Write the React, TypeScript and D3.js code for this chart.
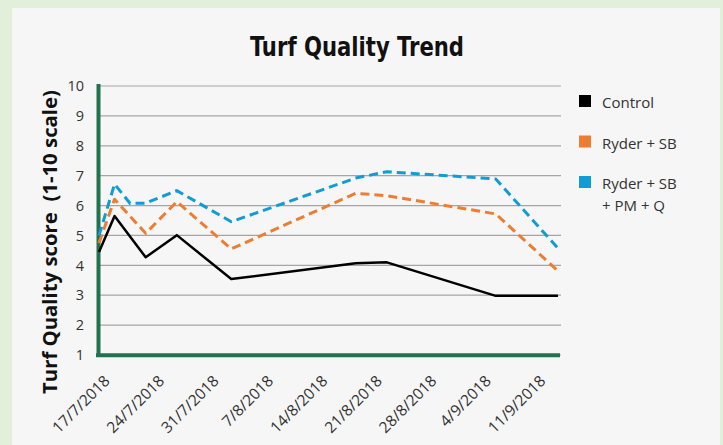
import React from "react";
import * as d3 from "d3";

// sample dates (shared by all three series)
const dates = ["16/7/2018", "18/7/2018", "20/7/2018", "22/7/2018", "26/7/2018", "2/8/2018", "18/8/2018", "22/8/2018", "5/9/2018", "13/9/2018"];
const control = [4.45, 5.65, null, 4.27, 5.01, 3.54, 4.07, 4.1, 2.98, 2.98];
const ryderSB = [4.75, 6.21, null, 5.07, 6.13, 4.55, 6.41, 6.33, 5.72, 3.81];
const ryderSBPMQ = [5.0, 6.72, 6.07, 6.08, 6.5, 5.46, 6.92, 7.13, 6.89, 4.57];

const tickDates = ["17/7/2018", "24/7/2018", "31/7/2018", "7/8/2018", "14/8/2018", "21/8/2018", "28/8/2018", "4/9/2018", "11/9/2018"];
const yTicks = [1, 2, 3, 4, 5, 6, 7, 8, 9, 10];

const seriesNames = [["Control"], ["Ryder + SB"], ["Ryder + SB", "+ PM + Q"]];
const seriesColors = ["#000000", "#ED7D31", "#129CD6"];

const W = 723;
const H = 445;
const parse = d3.timeParse("%d/%m/%Y");
const font = "'Open Sans', 'Noto Sans', sans-serif";

export default function App() {
  const x = d3
    .scaleTime()
    .domain([parse(dates[0]), parse(dates[dates.length - 1])])
    .range([99, 558]);
  const y = d3.scaleLinear().domain([1, 10]).range([355, 86]);

  const series = [control, ryderSB, ryderSBPMQ];
  const line = d3
    .line<[Date, number]>()
    .x(d => x(d[0]))
    .y(d => y(d[1]));

  const paths = series.map(vals =>
    line(
      vals
        .map((v, i) => [parse(dates[i]), v] as [Date, number | null])
        .filter(d => d[1] != null) as [Date, number][]
    )
  );

  return (
    <svg width={W} height={H} style={{ position: "absolute", left: 0, top: 0, display: "block" }}>
      <rect x={0} y={0} width={W} height={H} fill="#E2EFDA" />
      <rect x={12} y={8} width={708} height={H} fill="#F6F6F6" />

      <text
        x={357}
        y={56}
        textAnchor="middle"
        fontFamily="'Liberation Sans Narrow', 'DejaVu Sans Condensed', sans-serif"
        fontWeight="bold"
        fontSize={27}
        textLength={214}
        lengthAdjust="spacingAndGlyphs"
        fill="#111"
      >
        Turf Quality Trend
      </text>

      {/* grid */}
      {yTicks.map(t => (
        <g key={t}>
          <line x1={97} x2={561} y1={y(t)} y2={y(t)} stroke="#A5A5A5" strokeWidth={1.2} />
          <text
            x={84}
            y={y(t)}
            dy="0.36em"
            textAnchor="end"
            fontFamily={font}
            fontSize={14.5}
            fill="#333"
          >
            {t}
          </text>
        </g>
      ))}

      {/* x tick labels */}
      {tickDates.map(d => {
        const px = x(parse(d));
        return (
          <text
            key={d}
            transform={`translate(${px + 4},${382}) rotate(-45)`}
            textAnchor="end"
            fontFamily={font}
            fontSize={15.5}
            fill="#333"
          >
            {d}
          </text>
        );
      })}

      {/* axes */}
      <line x1={98.5} x2={98.5} y1={84} y2={357} stroke="#217350" strokeWidth={4} />
      <line x1={96} x2={560} y1={355.3} y2={355.3} stroke="#217350" strokeWidth={4} />

      {/* series */}
      {paths.map((p, i) => (
        <path
          key={i}
          d={p || ""}
          fill="none"
          stroke={seriesColors[i]}
          strokeWidth={i === 0 ? 2.5 : 3}
          strokeDasharray={i === 0 ? undefined : "9,5"}
          strokeLinejoin="round"
        />
      ))}

      {/* y axis title */}
      <text
        transform="translate(57,242) rotate(-90)"
        textAnchor="middle"
        fontFamily={font}
        fontWeight="bold"
        fontSize={19}
        textLength={304}
        lengthAdjust="spacingAndGlyphs"
        fill="#111"
        style={{ whiteSpace: "pre" }}
      >
        Turf Quality score  (1-10 scale)
      </text>

      {/* legend */}
      {seriesNames.map((name, i) => {
        const ly = 95 + i * 40.5;
        return (
          <g key={i}>
            <rect x={579} y={ly} width={12} height={12} fill={seriesColors[i]} />
            <text x={602} y={ly + 13} fontFamily={font} fontSize={15} fill="#333">
              {name.map((s, j) => (
                <tspan key={j} x={602} dy={j === 0 ? 0 : 21.5}>
                  {s}
                </tspan>
              ))}
            </text>
          </g>
        );
      })}
    </svg>
  );
}
